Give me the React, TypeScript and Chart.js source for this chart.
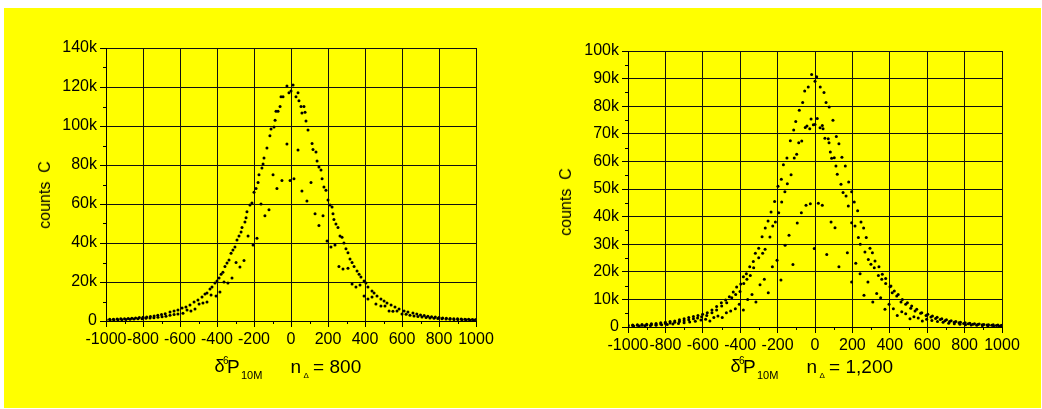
import React, { useEffect, useRef } from 'react';
import { Chart, registerables } from 'chart.js';

Chart.register(...registerables);

const FONT = '"Liberation Sans", Arial, Helvetica, sans-serif';

// ---------- axis ticks ----------
const xTickValues = [-1000, -800, -600, -400, -200, 0, 200, 400, 600, 800, 1000];
const xMinorValues = [-900, -700, -500, -300, -100, 100, 300, 500, 700, 900];
const leftYTickValues = [0, 20, 40, 60, 80, 100, 120, 140]; // thousands
const leftYMinorValues = [10, 30, 50, 70, 90, 110, 130];
const rightYTickValues = [0, 10, 20, 30, 40, 50, 60, 70, 80, 90, 100]; // thousands
const rightYMinorValues = [5, 15, 25, 35, 45, 55, 65, 75, 85, 95];

// ---------- left panel: n_Δ = 800 (counts in thousands) ----------
const leftMain: [number, number][] = [
  [-1000, 0.8], [-980, 0.85], [-960, 0.9], [-940, 1.0], [-920, 1.1], [-900, 1.2], [-880, 1.3], [-860, 1.45],
  [-840, 1.6], [-820, 1.75], [-800, 1.9], [-780, 2.1], [-760, 2.35], [-740, 2.6], [-720, 2.9], [-700, 3.3],
  [-680, 3.7], [-654, 4.6], [-632, 5.1], [-611, 5.6], [-589, 6.7], [-568, 7.2], [-546, 8.2], [-524, 9.7],
  [-503, 10.8], [-481, 12.3], [-465, 13.8], [-454, 14.4], [-438, 16.4], [-427, 17.4], [-411, 19.5], [-400, 20.5],
  [-389, 22], [-378, 24], [-368, 25], [-357, 28], [-346, 29.7], [-335, 31.3], [-324, 34.8], [-314, 36.4],
  [-303, 38], [-292, 41.5], [-281, 43.6], [-270, 45.6], [-265, 48], [-249, 50.8], [-243, 53], [-238, 56],
  [-222, 59.5], [-211, 60.5], [-200, 66], [-189, 68], [-178, 71], [-173, 75], [-157, 78.5], [-151, 80.5],
  [-146, 83.6], [-130, 88.7], [-114, 95], [-108, 98.5], [-92, 99.5], [-86, 103], [-81, 107.6], [-70, 107.6],
  [-59, 110], [-54, 115], [-43, 115], [-22, 120.5], [-11, 117], [0, 118], [11, 121], [27, 115],
  [38, 117], [43, 113], [54, 110], [59, 106.7], [70, 110], [76, 107], [81, 102.6], [92, 98],
  [114, 91], [119, 88], [135, 86.7], [141, 82], [151, 79], [162, 77.4], [168, 73], [178, 68.7],
  [189, 67], [200, 62], [211, 59.5], [222, 58.5], [227, 55], [232, 52], [243, 49.7], [254, 48],
  [265, 43.6], [276, 43], [286, 40], [297, 37], [308, 35], [319, 31.8], [330, 30], [341, 28],
  [357, 25.6], [368, 24], [378, 22.6], [395, 20.5], [405, 19.5], [416, 17.4], [438, 15.4], [449, 14.4],
  [465, 12.8], [486, 11.3], [503, 10.3], [519, 9.2], [541, 8.2], [562, 7.2], [584, 6.2], [611, 5.1],
  [632, 4.6], [659, 4.1], [680, 3.6], [700, 3.1], [720, 2.8], [740, 2.5], [760, 2.2], [780, 2.0],
  [800, 1.8], [820, 1.6], [840, 1.45], [860, 1.3], [880, 1.2], [900, 1.1], [920, 1.0], [940, 0.9],
  [960, 0.85], [980, 0.8], [1000, 0.75],
];

const leftSecond: [number, number][] = [
  [-1000, 0.5], [-978, 0.55], [-957, 0.6], [-935, 0.65], [-914, 0.7], [-892, 0.8], [-870, 0.9], [-849, 1.0],
  [-827, 1.1], [-805, 1.2], [-784, 1.35], [-762, 1.5], [-741, 1.7], [-719, 1.9], [-697, 2.2], [-676, 2.5],
  [-654, 3.0], [-632, 3.3], [-611, 3.6], [-584, 4.0], [-562, 5.6], [-541, 5.1], [-519, 6.2], [-497, 8.7],
  [-476, 9.2], [-454, 9.7], [-432, 13.3], [-405, 12.8], [-384, 14.9], [-362, 20], [-341, 19.5], [-319, 22],
  [-297, 30], [-276, 27.7], [-254, 31], [-232, 43.6], [-205, 39], [-184, 42.5], [-162, 60], [-141, 54],
  [-119, 57], [-97, 75], [-76, 68], [-49, 72], [-22, 90.8], [-5, 72], [16, 73], [38, 87.7],
  [59, 66.7], [86, 61.5], [108, 71], [130, 55], [151, 49], [173, 54], [195, 41], [216, 38],
  [238, 39], [259, 28], [281, 26.7], [308, 27], [330, 19], [351, 17.4], [373, 18.5], [395, 12.8],
  [416, 11.3], [438, 12.3], [459, 8.7], [486, 7.7], [508, 7.7], [530, 5.1], [551, 5.0], [573, 5.1],
  [600, 3.6], [622, 3.4], [643, 3.0], [665, 2.6], [686, 2.3], [708, 2.0], [730, 1.8], [751, 1.6],
  [773, 1.4], [794, 1.25], [816, 1.1], [838, 1.0], [859, 0.9], [881, 0.8], [902, 0.72], [924, 0.65],
  [946, 0.6], [967, 0.55], [989, 0.5],
];

// ---------- right panel: n_Δ = 1,200 (counts in thousands) ----------
const rightOuter: [number, number][] = [
  [-1000, 0.7], [-975, 0.75], [-950, 0.8], [-925, 0.9], [-900, 1.0], [-875, 1.15], [-850, 1.3], [-825, 1.5],
  [-800, 1.7], [-775, 1.95], [-750, 2.2], [-725, 2.6], [-700, 3.0], [-675, 3.4], [-650, 3.8], [-626, 4.2],
  [-601, 4.6], [-576, 5.2], [-551, 6.2], [-526, 7.4], [-501, 8.8], [-478, 9.8], [-458, 11], [-437, 12.7],
  [-419, 14.5], [-397, 15.6], [-383, 18.2], [-367, 19.3], [-349, 21.8], [-330, 23.7], [-319, 26.7], [-301, 28.5],
  [-283, 32.7], [-266, 35.9], [-251, 38.4], [-235, 41.7], [-216, 45.5], [-198, 51], [-180, 53.5], [-169, 58.8],
  [-150, 61.2], [-132, 67.5], [-114, 71.4], [-103, 74.5], [-84, 78.5], [-66, 81.3], [-55, 85.5], [-36, 87],
  [-18, 91.5], [0, 89], [9, 90.7], [28, 87], [48, 85], [59, 81.3], [76, 79.7], [96, 74.9],
  [114, 69], [128, 66.4], [144, 61.5], [162, 58.3], [180, 52.5], [196, 49], [210, 45.3], [228, 42.1],
  [246, 38], [260, 35.9], [274, 32.4], [294, 28.5], [307, 26.9], [321, 23.9], [342, 21.8], [360, 19.1],
  [378, 17.6], [406, 14.9], [424, 13], [445, 11.8], [467, 10], [494, 8.8], [517, 7.6], [544, 6.4],
  [571, 5.2], [603, 4.6], [628, 4.0], [653, 3.5], [678, 3.0], [703, 2.6], [728, 2.3], [753, 2.0],
  [778, 1.75], [803, 1.55], [828, 1.35], [853, 1.2], [878, 1.05], [903, 0.95], [928, 0.85], [953, 0.8],
  [978, 0.72], [1000, 0.65],
];

const rightInner: [number, number][] = [
  [-1000, 0.5], [-975, 0.55], [-950, 0.6], [-925, 0.65], [-900, 0.75], [-875, 0.85], [-850, 0.95], [-825, 1.1],
  [-800, 1.25], [-775, 1.45], [-750, 1.7], [-725, 2.0], [-700, 2.3], [-675, 2.6], [-650, 3.0], [-628, 3.3],
  [-606, 3.7], [-579, 4.2], [-551, 5.2], [-526, 6.2], [-499, 7.6], [-472, 8.8], [-445, 10.6], [-424, 11.8],
  [-401, 12.9], [-381, 15.8], [-364, 17.3], [-346, 18.7], [-328, 21.5], [-301, 25.1], [-280, 26.7], [-267, 28.2],
  [-241, 32.6], [-226, 36.6], [-212, 38], [-194, 41.4], [-178, 45.3], [-161, 49], [-148, 51.9], [-128, 55.2],
  [-111, 61.2], [-98, 62.6], [-87, 66.8], [-71, 67.4], [-52, 72.3], [-43, 72.8], [-28, 71.8], [-21, 75.4],
  [-9, 73.3], [0, 73.4], [12, 75.5], [27, 72.2], [39, 73], [43, 71.8], [53, 68.4], [71, 68.2],
  [75, 66.8], [82, 63.4], [89, 61.1], [103, 61.3], [112, 58.3], [119, 55.3], [139, 51.7], [150, 48.7],
  [166, 47.5], [178, 43.8], [196, 37.8], [214, 36.6], [232, 32.4], [242, 30], [267, 27.2], [285, 24.5],
  [299, 22.7], [317, 21.5], [339, 18.7], [357, 17.3], [378, 15.8], [401, 14.6], [413, 12.4], [437, 11.2],
  [460, 9.1], [485, 8.2], [512, 6.8], [535, 5.8], [565, 5.0], [594, 4.2], [620, 3.6], [645, 3.1],
  [670, 2.7], [695, 2.3], [720, 2.0], [745, 1.75], [770, 1.5], [795, 1.3], [820, 1.15], [845, 1.0],
  [870, 0.9], [895, 0.8], [920, 0.7], [945, 0.62], [970, 0.55], [995, 0.5],
];

const rightScatter: [number, number][] = [
  [-1000, 0.3], [-970, 0.35], [-940, 0.4], [-910, 0.45], [-880, 0.55], [-850, 0.65], [-820, 0.8], [-790, 0.95],
  [-760, 1.1], [-730, 1.3], [-700, 1.5], [-670, 1.8], [-640, 2.1], [-610, 2.5], [-585, 2.8], [-562, 2.2],
  [-541, 3.4], [-519, 4.0], [-496, 3.4], [-474, 5.2], [-451, 5.8], [-426, 6.6], [-405, 8.2], [-383, 6.2],
  [-360, 10], [-337, 11.8], [-316, 9.1], [-294, 15.3], [-271, 17.3], [-250, 12.4], [-228, 21.8], [-203, 24.2],
  [-182, 17], [-160, 29.6], [-139, 33.2], [-118, 22.6], [-95, 37.7], [-73, 41.4], [-48, 44.1], [-25, 44.7],
  [-4, 28.4], [18, 44.8], [39, 44.1], [63, 26.3], [86, 38], [107, 36], [128, 21.8], [173, 26.9],
  [196, 16.3], [218, 23.1], [241, 19.3], [262, 11.5], [283, 16.3], [309, 9.1], [330, 12.1], [351, 10.6],
  [374, 6.4], [396, 8.2], [419, 6.6], [440, 4.2], [464, 5.5], [485, 4.8], [508, 3.0], [529, 3.7],
  [552, 3.3], [574, 2.2], [597, 2.8], [625, 2.4], [655, 2.0], [685, 1.7], [715, 1.4], [745, 1.2],
  [775, 1.0], [805, 0.85], [835, 0.7], [865, 0.6], [895, 0.5], [925, 0.42], [955, 0.36], [985, 0.3],
];

// ---------- minor ticks plugin (uses the chart's own scales) ----------
const minorTicksPlugin = {
  id: 'minorTicks',
  afterDraw(chart: any, _args: any, opts: any) {
    const { ctx, chartArea, scales } = chart;
    const xs = scales.x;
    const ys = scales.y;
    ctx.save();
    ctx.strokeStyle = '#000';
    ctx.lineWidth = 1;
    ctx.beginPath();
    for (const v of opts.xMinor || []) {
      const px = Math.round(xs.getPixelForValue(v)) + 0.5;
      ctx.moveTo(px, chartArea.bottom);
      ctx.lineTo(px, chartArea.bottom + 3);
    }
    for (const v of opts.yMinor || []) {
      const py = Math.round(ys.getPixelForValue(v)) + 0.5;
      ctx.moveTo(chartArea.left - 3, py);
      ctx.lineTo(chartArea.left, py);
    }
    ctx.stroke();
    ctx.restore();
  },
};

type PanelProps = {
  left: number;
  top: number;
  width: number;
  height: number;
  padding: { left: number; top: number; right: number; bottom: number };
  series: [number, number][][];
  yMax: number;
  yTicks: number[];
  yMinor: number[];
};

function ChartPanel(props: PanelProps) {
  const ref = useRef<HTMLCanvasElement>(null);
  useEffect(() => {
    const { series, yMax, yTicks, yMinor, padding } = props;
    const chart = new Chart(ref.current as HTMLCanvasElement, {
      type: 'scatter',
      data: {
        datasets: series.map((s) => ({
          data: s.map(([x, y]) => ({ x, y })),
          pointRadius: 1.5,
          pointHoverRadius: 1.5,
          pointBorderWidth: 0,
          backgroundColor: '#000',
          borderColor: '#000',
          showLine: false,
        })),
      },
      options: {
        responsive: false,
        animation: false,
        devicePixelRatio: 1,
        events: [],
        layout: { padding },
        plugins: {
          legend: { display: false },
          tooltip: { enabled: false },
          // @ts-ignore
          minorTicks: { xMinor: xMinorValues, yMinor },
        },
        scales: {
          x: {
            type: 'linear',
            min: -1000,
            max: 1000,
            afterBuildTicks: (s: any) => {
              s.ticks = xTickValues.map((v) => ({ value: v }));
            },
            afterFit: (s: any) => {
              s.height = 30;
            },
            ticks: {
              autoSkip: false,
              maxRotation: 0,
              minRotation: 0,
              padding: 3,
              color: '#000',
              font: { family: FONT, size: 16 },
              callback: (v: any) => String(v),
            },
            grid: { color: '#111', lineWidth: 1, tickLength: 6, tickColor: '#000' },
            border: { color: '#000', width: 1 },
          },
          y: {
            type: 'linear',
            min: 0,
            max: yMax,
            afterBuildTicks: (s: any) => {
              s.ticks = yTicks.map((v) => ({ value: v }));
            },
            afterFit: (s: any) => {
              s.width = 60;
            },
            ticks: {
              autoSkip: false,
              padding: 3,
              color: '#000',
              font: { family: FONT, size: 16 },
              callback: (v: any) => (v === 0 ? '0' : `${v}k`),
            },
            grid: { color: '#111', lineWidth: 1, tickLength: 6, tickColor: '#000' },
            border: { color: '#000', width: 1 },
          },
        },
      },
      plugins: [minorTicksPlugin],
    } as any);
    return () => chart.destroy();
  }, []);
  return (
    <canvas
      ref={ref}
      width={props.width}
      height={props.height}
      style={{ position: 'absolute', left: props.left, top: props.top, width: props.width, height: props.height }}
    />
  );
}

function T(p: { x: number; base: number; size: number; children: React.ReactNode }) {
  return (
    <div
      style={{
        position: 'absolute',
        left: p.x,
        top: p.base - 0.8465 * p.size,
        fontSize: p.size,
        lineHeight: `${p.size}px`,
        whiteSpace: 'pre',
        color: '#000',
        fontFamily: FONT,
      }}
    >
      {p.children}
    </div>
  );
}

function XTitle(p: { dx: number; value: string }) {
  const d = p.dx;
  return (
    <>
      <T x={214.5 + d} base={372.7} size={18}>δ</T>
      <T x={223 + d} base={364} size={10}>6</T>
      <T x={227 + d} base={372.7} size={19}>P</T>
      <T x={241 + d} base={379} size={11}>10M</T>
      <T x={290.5 + d} base={372.7} size={19}>n</T>
      <T x={303.5 + d} base={379} size={8}>Δ</T>
      <T x={313 + d} base={372.7} size={19}>=</T>
      <T x={329.5 + d} base={372.7} size={19}>{p.value}</T>
    </>
  );
}

function YTitle(p: { cx: number; cy: number }) {
  return (
    <div
      style={{
        position: 'absolute',
        left: p.cx,
        top: p.cy,
        transform: 'translate(-50%, -50%) rotate(-90deg)',
        fontSize: 16,
        lineHeight: '16px',
        whiteSpace: 'pre',
        fontFamily: FONT,
        color: '#000',
      }}
    >
      {'counts  C'}
    </div>
  );
}

export default function App() {
  return (
    <div
      style={{
        position: 'fixed',
        left: 0,
        top: 0,
        width: 1042,
        height: 409,
        background: '#ffffff',
        overflow: 'hidden',
      }}
    >
      <div style={{ position: 'absolute', left: 4, top: 8, width: 1037, height: 400, background: '#ffff00' }} />
      <ChartPanel
        left={4}
        top={8}
        width={516}
        height={400}
        padding={{ left: 42, top: 40, right: 44, bottom: 57 }}
        series={[leftMain, leftSecond]}
        yMax={140}
        yTicks={leftYTickValues}
        yMinor={leftYMinorValues}
      />
      <ChartPanel
        left={520}
        top={8}
        width={520}
        height={400}
        padding={{ left: 48, top: 43, right: 38, bottom: 51 }}
        series={[rightOuter, rightInner, rightScatter]}
        yMax={100}
        yTicks={rightYTickValues}
        yMinor={rightYMinorValues}
      />
      <YTitle cx={44.5} cy={195} />
      <YTitle cx={566} cy={202} />
      <XTitle dx={0} value="800" />
      <XTitle dx={516} value="1,200" />
    </div>
  );
}
